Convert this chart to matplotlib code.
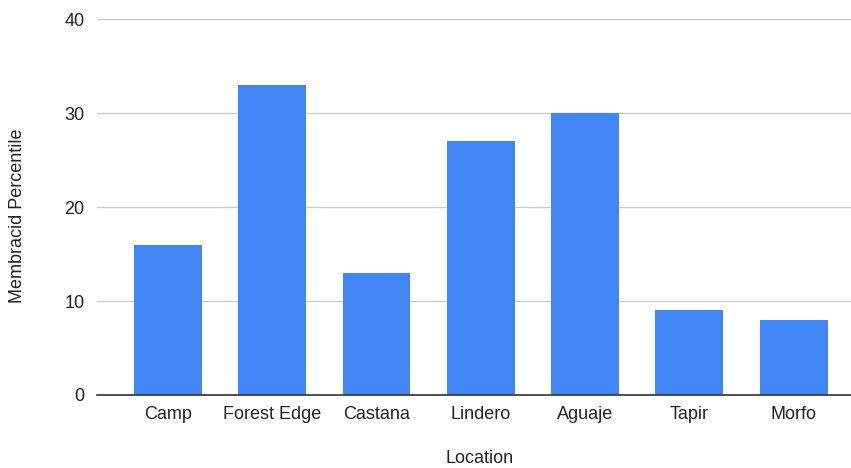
import matplotlib.pyplot as plt

# values
locations = ["Camp", "Forest Edge", "Castana", "Lindero", "Aguaje", "Tapir", "Morfo"]
percentiles = [16, 33, 13, 27, 30, 9, 8]
y_ticks = [0, 10, 20, 30, 40]

plt.rcParams['font.family'] = ['Liberation Sans', 'DejaVu Sans']

fig = plt.figure(figsize=(8.51, 4.68), dpi=100)
ax = fig.add_axes([0.114, 0.156, 0.886, 0.803])

x = range(len(locations))
ax.bar(x, percentiles, width=0.652, color='#4285f4', zorder=3)

ax.set_xlim(-0.68, 6.55)
ax.set_ylim(0, 40)
ax.set_yticks(y_ticks)
ax.set_xticks(list(x))
ax.set_xticklabels(locations)

# gridlines, google sheets look
ax.grid(axis='y', color='#cccccc', lw=1, zorder=0)
for side in ['top', 'right', 'left']:
    ax.spines[side].set_visible(False)
ax.spines['bottom'].set_color('#333333')
ax.spines['bottom'].set_linewidth(1.2)
ax.spines['bottom'].set_zorder(4)
ax.tick_params(axis='both', length=0, labelsize=13, colors='#222222')
ax.tick_params(axis='y', pad=9)
ax.tick_params(axis='x', pad=8)

ax.set_xlabel("Location", fontsize=13, color='#222222', va='center')
ax.set_ylabel("Membracid Percentile", fontsize=13, color='#222222', va='center')
ax.xaxis.set_label_coords(0.508, -0.168)
ax.yaxis.set_label_coords(-0.105, 0.476)

fig.savefig("out.png", dpi=100)
